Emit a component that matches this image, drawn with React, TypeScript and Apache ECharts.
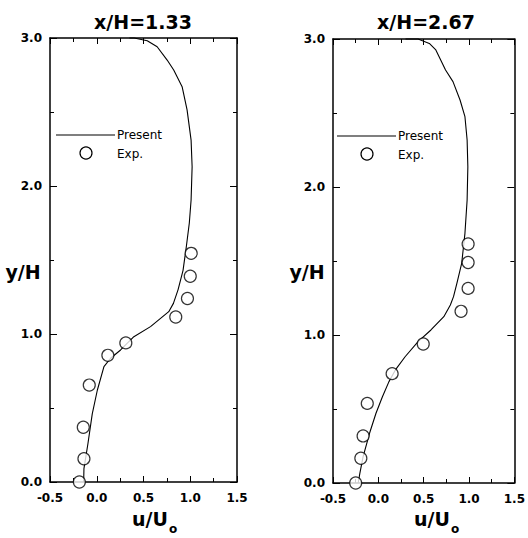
import React, { useEffect, useRef } from "react";
import * as echarts from "echarts";

const xTickValues = [-0.5, 0.0, 0.5, 1.0, 1.5];
const yTickValues = [0.0, 1.0, 2.0, 3.0];
const panelTitles = ["x/H=1.33", "x/H=2.67"];
const legendNames = ["Present", "Exp."];

// x/H = 1.33
const presentLeftU = [-0.14, -0.137, -0.094, -0.048, 0.006, 0.077, 0.148, 0.255, 0.397, 0.575, 0.77, 0.82, 0.87, 0.923, 0.96, 0.99, 1.009, 1.02, 1.009, 0.966, 0.913, 0.823, 0.753, 0.646, 0.54, 0.4, 0.35];
const presentLeftY = [0.0, 0.09, 0.26, 0.46, 0.62, 0.78, 0.836, 0.892, 0.982, 1.05, 1.151, 1.207, 1.3, 1.43, 1.6, 1.75, 1.905, 2.13, 2.31, 2.514, 2.671, 2.784, 2.851, 2.941, 2.982, 3.0, 3.0];
const expLeftU = [-0.186, -0.137, -0.144, -0.08, 0.119, 0.311, 0.845, 0.97, 1.0, 1.01];
const expLeftY = [0.0, 0.157, 0.37, 0.655, 0.856, 0.94, 1.115, 1.24, 1.39, 1.545];

// x/H = 2.67
const presentRightU = [-0.222, -0.204, -0.168, -0.097, -0.026, 0.045, 0.117, 0.188, 0.295, 0.438, 0.58, 0.722, 0.794, 0.829, 0.866, 0.901, 0.919, 0.955, 0.979, 0.987, 0.979, 0.955, 0.901, 0.823, 0.741, 0.634, 0.562, 0.438, 0.3];
const presentRightY = [0.0, 0.065, 0.178, 0.336, 0.471, 0.583, 0.685, 0.764, 0.853, 0.955, 1.034, 1.124, 1.203, 1.259, 1.349, 1.439, 1.484, 1.687, 1.912, 2.137, 2.318, 2.475, 2.588, 2.712, 2.791, 2.926, 2.97, 3.0, 3.0];
const expRightU = [-0.25, -0.193, -0.168, -0.122, 0.152, 0.495, 0.912, 0.99, 0.99, 0.99];
const expRightY = [0.0, 0.167, 0.318, 0.538, 0.739, 0.939, 1.16, 1.315, 1.49, 1.615];

const FONT = '"DejaVu Sans", sans-serif';

const zip = (a: number[], b: number[]) => a.map((v, i) => [v, b[i]]);

export default function App() {
  const ref = useRef<HTMLDivElement>(null);
  useEffect(() => {
    if (!ref.current) return;
    const chart = echarts.init(ref.current, undefined, { renderer: "svg" });

    const grids = [
      { left: 50, top: 38, width: 187, height: 444 },
      { left: 333, top: 39, width: 187, height: 444 },
    ];
    const xMin = xTickValues[0];
    const xMax = xTickValues[xTickValues.length - 1];
    const yMin = yTickValues[0];
    const yMax = yTickValues[yTickValues.length - 1];

    const axisLine = { show: true, onZero: false, lineStyle: { color: "#000", width: 1.5 } };
    const tickStyle = { color: "#000", width: 1 };
    const labelStyle = {
      show: true,
      color: "#000",
      fontFamily: FONT,
      fontSize: 12,
      fontWeight: "bold",
      showMinLabel: true,
      showMaxLabel: true,
      formatter: (v: number) => v.toFixed(1),
    };
    const xAxes: any[] = [];
    const yAxes: any[] = [];
    grids.forEach((_, g) => {
      const base = {
        gridIndex: g,
        type: "value",
        splitLine: { show: false },
        axisLine,
      };
      ["bottom", "top"].forEach((pos) => {
        xAxes.push({
          ...base,
          position: pos,
          min: xMin,
          max: xMax,
          interval: 0.5,
          axisTick: { show: true, inside: true, length: 6, lineStyle: tickStyle },
          minorTick: { show: true, splitNumber: 2, length: 4, lineStyle: tickStyle },
          axisLabel: pos === "bottom" ? { ...labelStyle, margin: 10 } : { show: false },
        });
      });
      ["left", "right"].forEach((pos) => {
        yAxes.push({
          ...base,
          position: pos,
          min: yMin,
          max: yMax,
          interval: 1,
          axisTick: { show: true, inside: true, length: 7, lineStyle: tickStyle },
          minorTick: { show: true, splitNumber: 2, length: 4, lineStyle: tickStyle },
          axisLabel: pos === "left" ? { ...labelStyle, margin: 8 } : { show: false },
        });
      });
    });

    const lineSeries = (g: number, u: number[], y: number[]) => ({
      type: "line",
      name: legendNames[0],
      xAxisIndex: g * 2,
      yAxisIndex: g * 2,
      data: zip(u, y),
      symbol: "none",
      smooth: false,
      clip: false,
      lineStyle: { color: "#000", width: 1.1 },
      itemStyle: { color: "#000" },
      z: 2,
    });
    const expSeries = (g: number, u: number[], y: number[]) => ({
      type: "scatter",
      name: legendNames[1],
      xAxisIndex: g * 2,
      yAxisIndex: g * 2,
      data: zip(u, y),
      symbol: "circle",
      symbolSize: 12,
      clip: false,
      itemStyle: { color: "#fff", borderColor: "#000", borderWidth: 1.2 },
      z: 3,
    });

    const txt = (x: number, y: number, text: string, font: string, align = "left") => ({
      type: "text",
      x,
      y,
      style: { text, fill: "#000", font, align, verticalAlign: "middle" },
    });

    const legendBlock = (x0: number, y0: number) => ({
      type: "group",
      children: [
        {
          type: "line",
          shape: { x1: x0, y1: y0, x2: x0 + 59, y2: y0 },
          style: { stroke: "#000", lineWidth: 1.1 },
        },
        txt(x0 + 61, y0, legendNames[0], `12px ${FONT}`),
        {
          type: "circle",
          shape: { cx: x0 + 30, cy: y0 + 18, r: 6 },
          style: { fill: "#fff", stroke: "#000", lineWidth: 1.2 },
        },
        txt(x0 + 61, y0 + 19, legendNames[1], `12px ${FONT}`),
      ],
    });

    const xName = (x: number) => ({
      type: "group",
      children: [
        txt(x, 519, "u/U", `bold 19px ${FONT}`),
        txt(x + 37, 529, "o", `bold 12px ${FONT}`),
      ],
    });

    chart.setOption({
      animation: false,
      backgroundColor: "#fff",
      grid: grids,
      xAxis: xAxes,
      yAxis: yAxes,
      series: [
        lineSeries(0, presentLeftU, presentLeftY),
        expSeries(0, expLeftU, expLeftY),
        lineSeries(1, presentRightU, presentRightY),
        expSeries(1, expRightU, expRightY),
      ],
      graphic: [
        txt(143, 22, panelTitles[0], `bold 19px ${FONT}`, "center"),
        txt(426, 22, panelTitles[1], `bold 19px ${FONT}`, "center"),
        txt(23, 272, "y/H", `bold 19px ${FONT}`, "center"),
        txt(307, 272, "y/H", `bold 19px ${FONT}`, "center"),
        xName(132),
        xName(414),
        legendBlock(56, 135),
        legendBlock(337, 136),
      ],
    });
    return () => chart.dispose();
  }, []);
  return (
    <div
      ref={ref}
      style={{ position: "fixed", left: 0, top: 0, width: 528, height: 538, background: "#fff" }}
    />
  );
}
